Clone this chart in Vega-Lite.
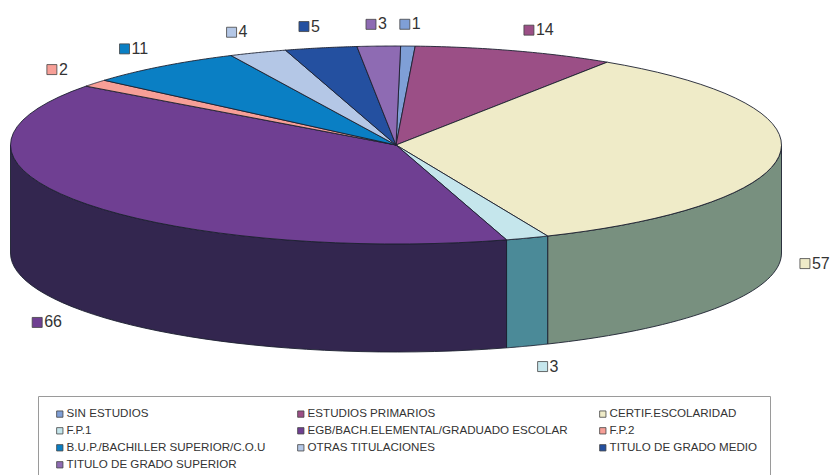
{
"$schema":"https://vega.github.io/schema/vega-lite/v6.json",
"width":832,"height":475,"padding":0,
"autosize":{"type":"none"},
"background":"white",
"view":{"stroke":null},
"data":{"values":[
{"nivel":"SIN ESTUDIOS","n":1},
{"nivel":"ESTUDIOS PRIMARIOS","n":14},
{"nivel":"CERTIF.ESCOLARIDAD","n":57},
{"nivel":"F.P.1","n":3},
{"nivel":"EGB/BACH.ELEMENTAL/GRADUADO ESCOLAR","n":66},
{"nivel":"F.P.2","n":2},
{"nivel":"B.U.P./BACHILLER SUPERIOR/C.O.U","n":11},
{"nivel":"OTRAS TITULACIONES","n":4},
{"nivel":"TITULO DE GRADO MEDIO","n":5},
{"nivel":"TITULO DE GRADO SUPERIOR","n":3}
]},
"transform":[
{"joinaggregate":[{"op":"sum","field":"n","as":"total"}]},
{"window":[{"op":"sum","field":"n","as":"cum"}]},
{"calculate":"0.012+(datum.cum-datum.n)/datum.total*2*PI","as":"a0"},
{"calculate":"0.012+datum.cum/datum.total*2*PI","as":"a1"}
],
"layer":[
{
"transform":[
{"calculate":"max(datum.a0,PI/2)","as":"w0"},
{"calculate":"min(datum.a1,3*PI/2)","as":"w1"},
{"filter":"datum.w1>datum.w0"},
{"calculate":"sequence(0,81)","as":"i"},
{"flatten":["i"]},
{"calculate":"datum.i<40?datum.i/39:(datum.i<80?(79-datum.i)/39:0)","as":"t"},
{"calculate":"datum.w0+(datum.w1-datum.w0)*datum.t","as":"a"},
{"calculate":"396+385.5*sin(datum.a)","as":"px"},
{"calculate":"145-99*cos(datum.a)+((datum.i>=40&&datum.i<80)?108:0)","as":"py"}
],
"mark":{"type":"line","stroke":"#1c2030","strokeWidth":0.9,"interpolate":"linear"},
"encoding":{
"x":{"field":"px","type":"quantitative","scale":{"domain":[0,832],"nice":false,"zero":false},"axis":null},
"y":{"field":"py","type":"quantitative","scale":{"domain":[475,0],"nice":false,"zero":false},"axis":null},
"order":{"field":"i","type":"quantitative"},
"fill":{"field":"nivel","type":"nominal","legend":null,"scale":{"domain":["CERTIF.ESCOLARIDAD","F.P.1","EGB/BACH.ELEMENTAL/GRADUADO ESCOLAR"],"range":["#78907f","#4b8a98","#33264f"]}}
}
},
{
"transform":[
{"calculate":"sequence(0,42)","as":"i"},
{"flatten":["i"]},
{"calculate":"datum.a0+(datum.a1-datum.a0)*(datum.i-1)/39","as":"a"},
{"calculate":"(datum.i==0||datum.i==41)?396:396+385.5*sin(datum.a)","as":"px"},
{"calculate":"(datum.i==0||datum.i==41)?145:145-99*cos(datum.a)","as":"py"}
],
"mark":{"type":"line","stroke":"#1c2030","strokeWidth":0.9,"interpolate":"linear"},
"encoding":{
"x":{"field":"px","type":"quantitative","scale":{"domain":[0,832],"nice":false,"zero":false},"axis":null},
"y":{"field":"py","type":"quantitative","scale":{"domain":[475,0],"nice":false,"zero":false},"axis":null},
"order":{"field":"i","type":"quantitative"},
"fill":{"field":"nivel","type":"nominal","sort":null,
"scale":{"domain":["SIN ESTUDIOS","ESTUDIOS PRIMARIOS","CERTIF.ESCOLARIDAD","F.P.1","EGB/BACH.ELEMENTAL/GRADUADO ESCOLAR","F.P.2","B.U.P./BACHILLER SUPERIOR/C.O.U","OTRAS TITULACIONES","TITULO DE GRADO MEDIO","TITULO DE GRADO SUPERIOR"],
"range":["#7f9fd6","#9b4f86","#efebc8","#c5e6ec","#6f3f92","#f79f97","#0a7fc4","#b4c7e6","#2450a0","#8e6bb3"]},
"legend":{"orient":"none","direction":"horizontal","legendX":38,"legendY":396,"columns":3,"title":null,"padding":12,"strokeColor":"#9a9a9a","fillColor":"white","symbolType":"square","symbolSize":40,"symbolStrokeColor":"#444","symbolStrokeWidth":0.8,"symbolOffset":4,"labelFont":"Liberation Sans","labelFontSize":11.6,"labelColor":"#333","labelOffset":1,"rowPadding":4,"columnPadding":25,"gridAlign":"each","labelLimit":400}
}
}
},
{
"transform":[
{"calculate":"(datum.a0+datum.a1)/2","as":"mid"},
{"calculate":"396+(1.07+0.09*abs(cos(datum.mid)))*385.5*sin(datum.mid)","as":"lx"},
{"calculate":"145-1.22*99*cos(datum.mid)+((datum.mid>PI/2&&datum.mid<3*PI/2)?108:0)","as":"ly"},
{"calculate":"datum.lx-5","as":"sx"},
{"calculate":"datum.lx+2","as":"tx"}
],
"layer":[
{
"mark":{"type":"point","shape":"square","filled":true,"size":100,"stroke":"#444","strokeWidth":0.8,"opacity":1},
"encoding":{
"x":{"field":"sx","type":"quantitative","scale":{"domain":[0,832],"nice":false,"zero":false},"axis":null},
"y":{"field":"ly","type":"quantitative","scale":{"domain":[475,0],"nice":false,"zero":false},"axis":null},
"fill":{"field":"nivel","type":"nominal","legend":null,
"scale":{"domain":["SIN ESTUDIOS","ESTUDIOS PRIMARIOS","CERTIF.ESCOLARIDAD","F.P.1","EGB/BACH.ELEMENTAL/GRADUADO ESCOLAR","F.P.2","B.U.P./BACHILLER SUPERIOR/C.O.U","OTRAS TITULACIONES","TITULO DE GRADO MEDIO","TITULO DE GRADO SUPERIOR"],
"range":["#7f9fd6","#9b4f86","#efebc8","#c5e6ec","#6f3f92","#f79f97","#0a7fc4","#b4c7e6","#2450a0","#8e6bb3"]}}
}
},
{
"mark":{"type":"text","align":"left","baseline":"middle","font":"Liberation Sans","fontSize":16,"color":"#333"},
"encoding":{
"x":{"field":"tx","type":"quantitative","scale":{"domain":[0,832],"nice":false,"zero":false},"axis":null},
"y":{"field":"ly","type":"quantitative","scale":{"domain":[475,0],"nice":false,"zero":false},"axis":null},
"text":{"field":"n","type":"quantitative"}
}
}
]
}
],
"resolve":{"scale":{"fill":"independent"}}
}
